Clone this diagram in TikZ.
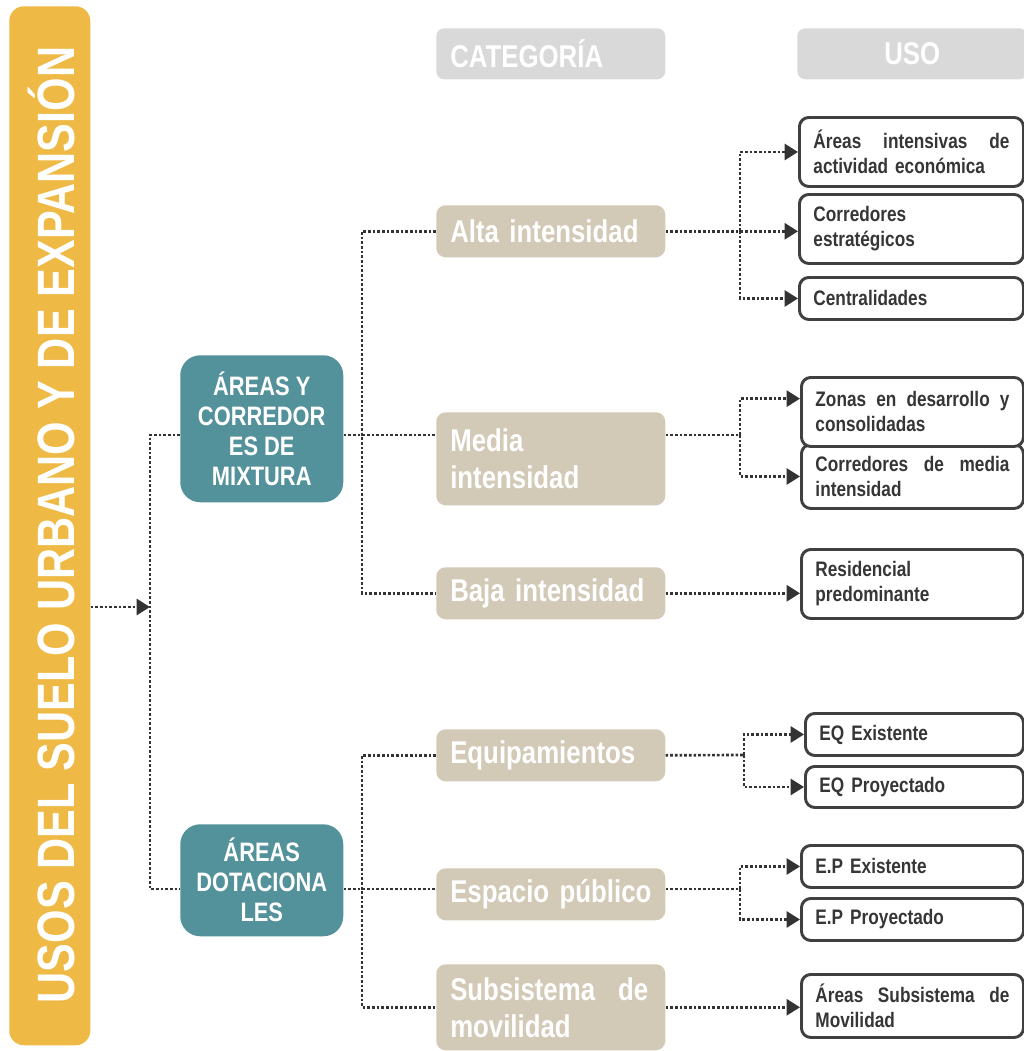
\documentclass[tikz,border=0pt]{standalone}
\usepackage{fontspec}
\setmainfont{Liberation Sans}[FakeStretch=0.82]
\usetikzlibrary{arrows.meta,positioning}

\definecolor{barYellow}{HTML}{EFB945}
\definecolor{mixTeal}{HTML}{53929A}
\definecolor{catBeige}{HTML}{D3C9B7}
\definecolor{headGrey}{HTML}{D9D9D9}
\definecolor{lineDark}{HTML}{333333}
\definecolor{boxEdge}{HTML}{404040}

% linea justificada
\newcommand{\jline}[2]{{\spaceskip=0.25em plus 1fil\makebox[#1][s]{#2}}}

\begin{document}
\begin{tikzpicture}[x=0.75pt, y=-0.75pt,
                    every node/.style={font=\bfseries, inner sep=0pt},
                    headbox/.style={fill=headGrey, rounded corners=6pt, text=white, anchor=north west,
                                    minimum height=38.25pt, font=\bfseries\fontsize{23.6}{26}\selectfont},
                    catbox/.style={fill=catBeige, rounded corners=7pt, text=white, anchor=north west,
                                   text width=150.75pt, inner xsep=10.5pt, align=left,
                                   font=\bfseries\fontsize{23.6}{27.75}\selectfont},
                    mixbox/.style={fill=mixTeal, rounded corners=15pt, text=white, anchor=north west,
                                   minimum width=122.25pt, align=center,
                                   font=\bfseries\fontsize{20}{22.5}\selectfont},
                    usobox/.style={draw=boxEdge, line width=2.2pt, fill=white, rounded corners=7pt,
                                   text=boxEdge!85!black, anchor=north west, text width=#1,
                                   inner xsep=10.5pt, align=left,
                                   font=\bfseries\fontsize{15.75}{18.75}\selectfont},
                    usobox/.default=145.5pt,
                    conn/.style={draw=lineDark, line width=2pt, dash pattern=on 2pt off 1.5pt},
                    arr/.style={conn, -{Triangle[length=10pt, width=12pt]}}]

    \useasboundingbox (0,0) rectangle (1024,1051);

    % titulo
    \node[fill=barYellow, rounded corners=11pt, anchor=north west,
          minimum width=60.75pt, minimum height=779.25pt] (bar) at (9,6) {};
    \node[rotate=90, anchor=base, text=white, font=\bfseries\fontsize{39.4}{40}\selectfont]
          (title) at (74,525) {USOS DEL SUELO URBANO Y DE EXPANSIÓN};

    % encabezados
    \node[headbox, text width=150.75pt, inner xsep=10.5pt, align=left] (hcat) at (436,28) {CATEGORÍA};
    \node[headbox, minimum width=172.5pt, align=center] (huso) at (797,28) {USO};

    % areas
    \node[mixbox, minimum height=110.25pt] (mix) at (180,355) {ÁREAS Y\\CORREDOR\\ES DE\\MIXTURA};
    \node[mixbox, minimum height=84pt] (dot) at (180,824) {ÁREAS\\DOTACIONA\\LES};

    % categorias
    \node[catbox, minimum height=39pt] (alta) at (436,205) {Alta intensidad};
    \node[catbox, minimum height=69.75pt] (media) at (436,412) {Media\\intensidad};
    \node[catbox, minimum height=39pt] (baja) at (436,567) {Baja~intensidad};
    \node[catbox, minimum height=39pt] (equip) at (436,729) {Equipamientos};
    \node[catbox, minimum height=39pt] (esp) at (436,868) {Espacio~público};
    \node[catbox, minimum height=64.5pt] (subs) at (436,964) {\jline{148.5pt}{Subsistema de}\\movilidad};

    % usos
    \node[usobox=147pt, minimum height=51.75pt] (intens) at (798,116) {\jline{147pt}{Áreas intensivas de}\\actividad económica};
    \node[usobox=147pt, minimum height=51.75pt] (corr) at (798,193) {Corredores\\estratégicos};
    \node[usobox=147pt, minimum height=31.5pt] (central) at (798,276) {Centralidades};
    \node[usobox, minimum height=48pt] (corrmed) at (800,443) {\jline{145.5pt}{Corredores de media}\\intensidad};
    \node[usobox, minimum height=51.75pt] (zonas) at (800,376) {\jline{145.5pt}{Zonas en desarrollo y}\\consolidadas};
    \node[usobox, minimum height=51.75pt] (resid) at (800,548) {Residencial\\predominante};
    \node[usobox=142.5pt, minimum height=31.5pt] (eqex) at (804,712) {EQ Existente};
    \node[usobox=142.5pt, minimum height=30.75pt] (eqpr) at (804,765) {EQ Proyectado};
    \node[usobox, minimum height=31.5pt] (epex) at (800,844) {E.P Existente};
    \node[usobox, minimum height=31.5pt] (eppr) at (800,897) {E.P Proyectado};
    \node[usobox, minimum height=47.25pt] (asm) at (800,973) {\jline{145.5pt}{Áreas Subsistema de}\\Movilidad};

    % puntos de union
    \coordinate (jroot) at (150,607);
    \coordinate (jmix) at (362,435);
    \coordinate (jdot) at (362,889);
    \coordinate (jalta) at (740,231);
    \coordinate (jmedia) at (740,435);
    \coordinate (jequip) at (744,755);
    \coordinate (jesp) at (740,889);

    % conexiones
    \draw[arr] (bar.east |- jroot) -- (jroot);
    \draw[conn] (mix.west |- jmix) -| (jroot) |- (dot.west |- jdot);
    \draw[conn] (mix.east |- jmix) -- (media.west |- jmix);
    \draw[conn] (alta.west) -| (jmix) |- (baja.west);
    \draw[conn] (dot.east |- jdot) -- (esp.west |- jdot);
    \draw[conn] (equip.west) -| (jdot) |- (subs.west);

    \draw[arr] (alta.east) -- (alta.east -| corr.west);
    \draw[arr] (jalta) |- (intens.west);
    \draw[arr] (jalta) |- (central.west);
    \draw[conn] (media.east |- jmedia) -- (jmedia);
    \draw[arr] (jmedia) |- ([yshift=10pt]zonas.west);
    \draw[arr] (jmedia) |- (corrmed.west);
    \draw[arr] (baja.east) -- (baja.east -| resid.west);
    \draw[conn] (equip.east) -- (jequip);
    \draw[arr] (jequip) |- (eqex.west);
    \draw[arr] (jequip) |- (eqpr.west);
    \draw[conn] (esp.east |- jesp) -- (jesp);
    \draw[arr] (jesp) |- (epex.west);
    \draw[arr] (jesp) |- (eppr.west);
    \draw[arr] (subs.east) -- (subs.east -| asm.west);
\end{tikzpicture}
\end{document}
